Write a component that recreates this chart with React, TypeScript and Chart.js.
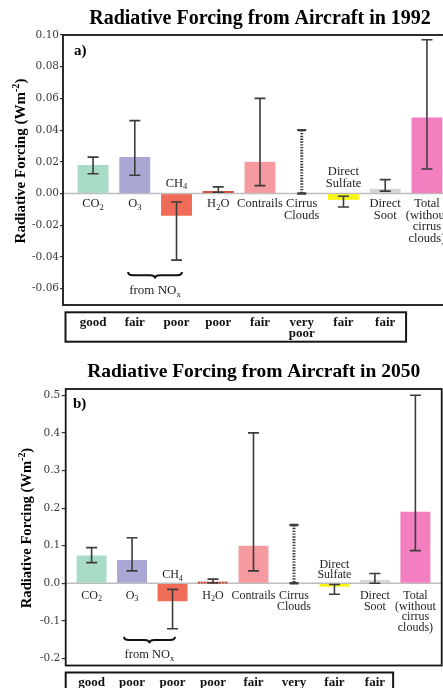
import React, { useEffect, useRef } from "react";
import { Chart, registerables } from "chart.js";

Chart.register(...registerables);

// ---------- data ----------
const categories = ["CO2", "O3", "CH4", "H2O", "Contrails", "Cirrus Clouds", "Direct Sulfate", "Direct Soot", "Total (without cirrus clouds)"];
const labelsBelow = ["CO_{2}", "O_{3}", "", "H_{2}O", "Contrails", "Cirrus\nClouds", "", "Direct\nSoot", "Total\n(without\ncirrus\nclouds)"];
const labelsAbove = ["", "", "CH_{4}", "", "", "", "Direct\nSulfate", "", ""];
const barColors = ["#a8dcc6", "#aba7d4", "#ef6c58", "#ef7060", "#f59b9f", "rgba(0,0,0,0)", "#f7f416", "#d5d5d2", "#f47fc0"];
const dottedTop = [false, false, false, true, false, false, false, false, false];
const dottedError = [false, false, false, false, false, true, false, false, false];

const values1992 = [0.018, 0.023, -0.014, 0.0016, 0.020, null, -0.004, 0.003, 0.048];
const low1992 = [0.0125, 0.0115, -0.042, 0.0008, 0.005, 0.0, -0.0085, 0.0015, 0.0155];
const high1992 = [0.023, 0.046, -0.0053, 0.0042, 0.060, 0.040, -0.0017, 0.0088, 0.097];
const quality1992 = ["good", "fair", "poor", "poor", "fair", "very\npoor", "fair", "fair"];
const yTicks1992 = [0.1, 0.08, 0.06, 0.04, 0.02, 0, -0.02, -0.04, -0.06];

const values2050 = [0.074, 0.062, -0.048, 0.004, 0.10, null, -0.009, 0.009, 0.19];
const low2050 = [0.055, 0.033, -0.121, 0.001, 0.033, 0.0, -0.029, 0.0, 0.087];
const high2050 = [0.095, 0.121, -0.016, 0.011, 0.40, 0.155, -0.003, 0.026, 0.50];
const quality2050 = ["good", "poor", "poor", "poor", "fair", "very\npoor", "fair", "fair"];
const yTicks2050 = [0.5, 0.4, 0.3, 0.2, 0.1, 0, -0.1, -0.2];

const SERIF = '"Liberation Serif", "Times New Roman", serif';

// ---------- rich text helper ----------
type Seg = { t: string; k: number };
function parseRich(s: string): Seg[] {
  const segs: Seg[] = [];
  const re = /([_^])\{([^}]*)\}/g;
  let last = 0;
  let m: RegExpExecArray | null;
  while ((m = re.exec(s))) {
    if (m.index > last) segs.push({ t: s.slice(last, m.index), k: 0 });
    segs.push({ t: m[2], k: m[1] === "_" ? 1 : 2 });
    last = re.lastIndex;
  }
  if (last < s.length) segs.push({ t: s.slice(last), k: 0 });
  return segs;
}
function drawRich(ctx: CanvasRenderingContext2D, s: string, x: number, cy: number, size: number, weight: string, color: string, align = "center") {
  const segs = parseRich(s);
  const fontFor = (k: number) => `${weight} ${k ? size * 0.68 : size}px ${SERIF}`;
  let total = 0;
  const widths = segs.map((sg) => {
    ctx.font = fontFor(sg.k);
    const w = ctx.measureText(sg.t).width;
    total += w;
    return w;
  });
  let cx = align === "center" ? x - total / 2 : align === "left" ? x : x - total;
  const base = cy + size * 0.32;
  ctx.fillStyle = color;
  ctx.textAlign = "left";
  ctx.textBaseline = "alphabetic";
  segs.forEach((sg, i) => {
    ctx.font = fontFor(sg.k);
    const dy = sg.k === 1 ? size * 0.22 : sg.k === 2 ? -size * 0.4 : 0;
    ctx.fillText(sg.t, cx, base + dy);
    cx += widths[i];
  });
}

type PanelCfg = {
  top: number; width: number; height: number;
  padding: { top: number; right: number; bottom: number; left: number };
  yAxisWidth: number; tickLen: number; tickPad: number;
  xMin: number; xMax: number; yMin: number; yMax: number;
  ticks: number[]; decimals: number;
  values: (number | null)[]; low: number[]; high: number[];
  quality: string[];
  title: string; titleSize: number; titleY: number;
  tag: string; tagX: number; tagY: number;
  yTitleX: number; yTitleY: number; yTitleSize: number;
  labelSize: number; belowOffset: number; belowGap: number; aboveOffset: number; aboveGap: number;
  brace: { x0: number; x1: number; y: number; textY: number };
  table: { x0: number; x1: number; top: number; h: number; dy: number; gap: number };
};

const panel1: PanelCfg = {
  top: 0, width: 470, height: 346,
  padding: { top: 35, right: 13, bottom: 41, left: 0 },
  yAxisWidth: 63, tickLen: 3, tickPad: 1,
  xMin: -0.72, xMax: 8.72, yMin: -0.0703, yMax: 0.1,
  ticks: yTicks1992, decimals: 2,
  values: values1992, low: low1992, high: high1992, quality: quality1992,
  title: "Radiative Forcing from Aircraft in 1992", titleSize: 20, titleY: 17.5,
  tag: "a)", tagX: 74, tagY: 50,
  yTitleX: 20.5, yTitleY: 161, yTitleSize: 15,
  labelSize: 12.5, belowOffset: 9.3, belowGap: 11.8, aboveOffset: 10.8, aboveGap: 11.6,
  brace: { x0: 0.84, x1: 2.13, y: -0.0495, textY: -0.061 },
  table: { x0: -0.66, x1: 7.5, top: 312.3, h: 29.4, dy: 9.4, gap: 11.6 },
};

const panel2: PanelCfg = {
  top: 346, width: 443, height: 346,
  padding: { top: 43, right: 1.3, bottom: 26.5, left: 0 },
  yAxisWidth: 65.7, tickLen: 4, tickPad: 1.5,
  xMin: -0.64, xMax: 8.65, yMin: -0.2186, yMax: 0.5168,
  ticks: yTicks2050, decimals: 1,
  values: values2050, low: low2050, high: high2050, quality: quality2050,
  title: "Radiative Forcing from Aircraft in 2050", titleSize: 19.5, titleY: 24.5,
  tag: "b)", tagX: 73, tagY: 57.3,
  yTitleX: 26.5, yTitleY: 182, yTitleSize: 14.6,
  labelSize: 12, belowOffset: 11.7, belowGap: 10.8, aboveOffset: 9, aboveGap: 10,
  brace: { x0: 0.8, x1: 2.06, y: -0.142, textY: -0.188 },
  table: { x0: -0.64, x1: 7.45, top: 326.5, h: 29.4, dy: 9.2, gap: 11.6 },
};

function drawBrace(ctx: CanvasRenderingContext2D, xl: number, xr: number, y: number, depth: number) {
  const h = depth / 2;
  const xm = (xl + xr) / 2;
  const r = 5;
  ctx.beginPath();
  ctx.moveTo(xl, y);
  ctx.quadraticCurveTo(xl, y + h, xl + r, y + h);
  ctx.lineTo(xm - r, y + h);
  ctx.quadraticCurveTo(xm, y + h, xm, y + 2 * h);
  ctx.quadraticCurveTo(xm, y + h, xm + r, y + h);
  ctx.lineTo(xr - r, y + h);
  ctx.quadraticCurveTo(xr, y + h, xr, y);
  ctx.strokeStyle = "#111";
  ctx.lineWidth = 2;
  ctx.stroke();
}

function makeOverlay(cfg: PanelCfg) {
  return {
    id: "overlay",
    beforeDatasetsDraw(chart: any) {
      const { ctx, chartArea, scales } = chart;
      const y0 = scales.y.getPixelForValue(0);
      ctx.save();
      ctx.strokeStyle = "#bdbdbd";
      ctx.lineWidth = 1.6;
      ctx.beginPath();
      ctx.moveTo(chartArea.left, y0);
      ctx.lineTo(chartArea.right, y0);
      ctx.stroke();
      ctx.restore();
    },
    afterDatasetsDraw(chart: any) {
      const { ctx, scales } = chart;
      const xs = scales.x;
      const ys = scales.y;
      const y0 = ys.getPixelForValue(0);
      const meta = chart.getDatasetMeta(0);
      ctx.save();
      // dotted top edge (H2O)
      meta.data.forEach((bar: any, i: number) => {
        if (!dottedTop[i] || cfg.values[i] == null) return;
        ctx.strokeStyle = "#b8392a";
        ctx.lineWidth = 2;
        ctx.setLineDash([1.5, 1.5]);
        ctx.beginPath();
        ctx.moveTo(bar.x - bar.width / 2, bar.y + 1);
        ctx.lineTo(bar.x + bar.width / 2, bar.y + 1);
        ctx.stroke();
        ctx.setLineDash([]);
      });
      // error bars
      categories.forEach((_, i) => {
        const x = xs.getPixelForValue(i);
        const yh = ys.getPixelForValue(cfg.high[i]);
        const yl = ys.getPixelForValue(cfg.low[i]);
        ctx.strokeStyle = "#3c3c3c";
        const cap = dottedError[i] ? 4.5 : 5.5;
        if (dottedError[i]) {
          ctx.lineWidth = 3;
          ctx.setLineDash([1.4, 1.4]);
        } else {
          ctx.lineWidth = 1.6;
          ctx.setLineDash([]);
        }
        ctx.beginPath();
        ctx.moveTo(x, yh);
        ctx.lineTo(x, yl);
        ctx.stroke();
        ctx.setLineDash([]);
        ctx.lineWidth = dottedError[i] ? 2.4 : 1.6;
        ctx.beginPath();
        ctx.moveTo(x - cap, yh);
        ctx.lineTo(x + cap, yh);
        ctx.moveTo(x - cap, yl);
        ctx.lineTo(x + cap, yl);
        ctx.stroke();
      });
      // labels
      categories.forEach((_, i) => {
        const x = xs.getPixelForValue(i);
        const below = labelsBelow[i];
        if (below) {
          below.split("\n").forEach((line, k) => {
            drawRich(ctx, line, x, y0 + cfg.belowOffset + k * cfg.belowGap, cfg.labelSize, "normal", "#1e1e1e");
          });
        }
        const above = labelsAbove[i];
        if (above) {
          const lines = above.split("\n");
          lines.forEach((line, k) => {
            const cy = y0 - cfg.aboveOffset - (lines.length - 1 - k) * cfg.aboveGap;
            drawRich(ctx, line, x, cy, cfg.labelSize, "normal", "#1e1e1e");
          });
        }
      });
      // brace + from NOx
      const bx0 = xs.getPixelForValue(cfg.brace.x0);
      const bx1 = xs.getPixelForValue(cfg.brace.x1);
      drawBrace(ctx, bx0, bx1, ys.getPixelForValue(cfg.brace.y), 6.5);
      drawRich(ctx, "from NO_{x}", (bx0 + bx1) / 2, ys.getPixelForValue(cfg.brace.textY), cfg.labelSize + 0.5, "normal", "#1e1e1e");
      ctx.restore();
    },
    afterDraw(chart: any) {
      const { ctx, chartArea, scales } = chart;
      const xs = scales.x;
      ctx.save();
      // frame
      ctx.strokeStyle = "#161616";
      ctx.lineWidth = 1.8;
      ctx.strokeRect(chartArea.left, chartArea.top, chartArea.right - chartArea.left, chartArea.bottom - chartArea.top);
      // title
      drawRich(ctx, cfg.title, (chartArea.left + chartArea.right) / 2, cfg.titleY, cfg.titleSize, "bold", "#000");
      // tag
      drawRich(ctx, cfg.tag, cfg.tagX, cfg.tagY, 15, "bold", "#000", "left");
      // y title
      ctx.save();
      ctx.translate(cfg.yTitleX, cfg.yTitleY);
      ctx.rotate(-Math.PI / 2);
      drawRich(ctx, "Radiative Forcing (Wm^{-2})", 0, 0, cfg.yTitleSize, "bold", "#000");
      ctx.restore();
      // quality table
      const t = cfg.table;
      const tx0 = xs.getPixelForValue(t.x0);
      const tx1 = xs.getPixelForValue(t.x1);
      ctx.strokeStyle = "#161616";
      ctx.lineWidth = 2;
      ctx.strokeRect(tx0, t.top, tx1 - tx0, t.h);
      cfg.quality.forEach((q, i) => {
        const x = xs.getPixelForValue(i);
        q.split("\n").forEach((line, k) => {
          drawRich(ctx, line, x, t.top + t.dy + k * t.gap, 13, "bold", "#111");
        });
      });
      ctx.restore();
    },
  };
}

function Panel({ cfg }: { cfg: PanelCfg }) {
  const ref = useRef<HTMLCanvasElement>(null);
  useEffect(() => {
    if (!ref.current) return;
    const chart = new Chart(ref.current, {
      type: "bar",
      data: {
        datasets: [
          {
            data: cfg.values.map((v, i) => ({ x: i, y: v })) as any,
            backgroundColor: barColors,
            borderWidth: 0,
            barPercentage: 0.74,
            categoryPercentage: 1,
          },
        ],
      },
      options: {
        responsive: false,
        animation: false,
        events: [],
        layout: { padding: cfg.padding },
        plugins: { legend: { display: false }, title: { display: false }, tooltip: { enabled: false } },
        scales: {
          x: { type: "linear", display: false, min: cfg.xMin, max: cfg.xMax, offset: false },
          y: {
            type: "linear",
            min: cfg.yMin,
            max: cfg.yMax,
            afterFit: (s: any) => {
              s.width = cfg.yAxisWidth;
            },
            afterBuildTicks: (s: any) => {
              s.ticks = cfg.ticks.map((v) => ({ value: v }));
            },
            ticks: {
              callback: (v: any) => Number(v).toFixed(cfg.decimals),
              font: { family: '"DejaVu Serif", serif', size: 10.5 },
              color: "#3a3a3a",
              padding: cfg.tickPad,
            },
            grid: { drawOnChartArea: false, drawTicks: true, tickLength: cfg.tickLen, color: "#333", lineWidth: 1.2 },
            border: { display: false },
          },
        },
      } as any,
      plugins: [makeOverlay(cfg)],
    });
    return () => chart.destroy();
  }, []);
  return (
    <canvas
      ref={ref}
      width={cfg.width}
      height={cfg.height}
      style={{ position: "absolute", left: 0, top: cfg.top, width: cfg.width, height: cfg.height }}
    />
  );
}

export default function App() {
  return (
    <div style={{ position: "absolute", left: 0, top: 0, width: 443, height: 688, overflow: "hidden", background: "#fff" }}>
      <Panel cfg={panel1} />
      <Panel cfg={panel2} />
    </div>
  );
}
